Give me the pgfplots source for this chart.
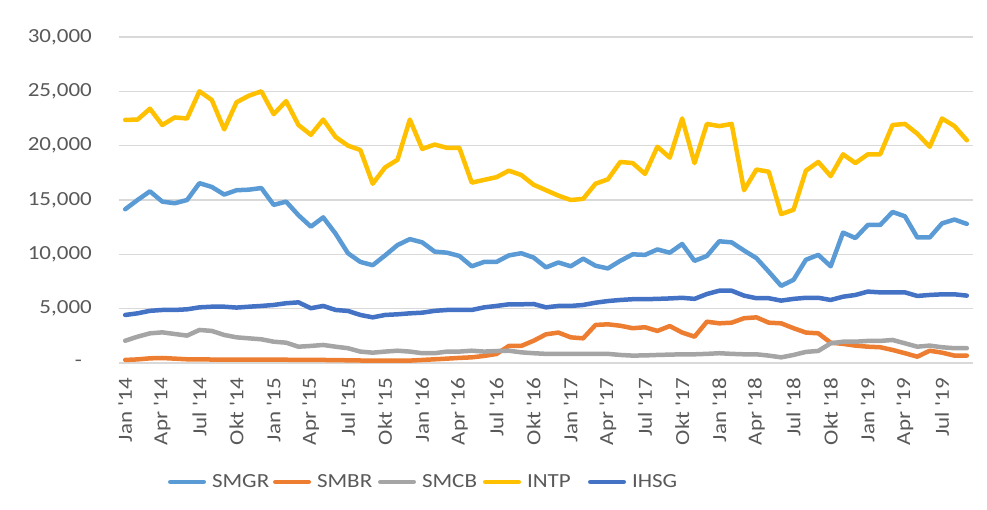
\documentclass[border=0pt]{standalone}
\usepackage{fontspec}
\setmainfont{Carlito}[FakeStretch=1.15, Ligatures=TeXOff]
\usepackage{pgfplots}
\pgfplotsset{compat=1.18}
\definecolor{cSMGR}{HTML}{5B9BD5}
\definecolor{cSMBR}{HTML}{ED7D31}
\definecolor{cSMCB}{HTML}{A5A5A5}
\definecolor{cINTP}{HTML}{FFC000}
\definecolor{cIHSG}{HTML}{4472C4}
\definecolor{txtgray}{HTML}{595959}
\definecolor{gridgray}{HTML}{D9D9D9}
\newcommand\lf{\fontsize{20}{23}\selectfont}

\pgfplotstableread{
i SMGR SMBR SMCB INTP IHSG
0 14150 280 2050 22370 4420
1 15000 330 2420 22400 4570
2 15800 430 2730 23400 4800
3 14850 460 2820 21900 4880
4 14700 400 2670 22600 4880
5 15000 340 2520 22500 4940
6 16550 330 3040 25000 5120
7 16200 320 2950 24200 5180
8 15500 320 2580 21500 5180
9 15900 300 2360 24000 5100
10 15950 300 2270 24600 5180
11 16100 300 2180 25000 5250
12 14550 300 1960 22900 5340
13 14850 300 1870 24100 5500
14 13600 290 1500 21900 5580
15 12550 280 1570 21000 5040
16 13400 280 1660 22400 5250
17 11900 260 1500 20800 4880
18 10100 250 1360 20000 4790
19 9300 230 1050 19600 4420
20 9000 220 950 16500 4200
21 9900 220 1050 18000 4420
22 10850 220 1130 18700 4480
23 11400 220 1050 22400 4570
24 11100 280 900 19700 4630
25 10250 340 900 20100 4800
26 10150 400 1050 19800 4880
27 9850 470 1050 19800 4880
28 8900 520 1130 16600 4880
29 9300 650 1050 16850 5120
30 9300 830 1100 17100 5250
31 9900 1570 1130 17700 5400
32 10100 1570 980 17300 5400
33 9700 2050 900 16400 5430
34 8800 2640 840 15900 5120
35 9250 2800 840 15400 5250
36 8900 2360 840 15000 5250
37 9600 2270 840 15100 5340
38 8950 3500 840 16500 5550
39 8700 3560 840 16900 5700
40 9400 3430 740 18500 5800
41 10000 3200 680 18400 5870
42 9950 3290 700 17400 5870
43 10450 2950 740 19900 5900
44 10150 3400 770 18900 5940
45 10950 2800 800 22500 6000
46 9400 2420 800 18400 5900
47 9850 3800 840 22000 6350
48 11200 3650 900 21800 6650
49 11100 3710 840 22000 6650
50 10350 4120 800 15900 6200
51 9650 4200 800 17800 5960
52 8400 3710 680 17600 5960
53 7100 3650 520 13700 5740
54 7650 3200 740 14100 5900
55 9500 2800 1020 17700 6000
56 9950 2730 1110 18500 6000
57 8900 1870 1810 17200 5800
58 12000 1760 1960 19200 6100
59 11500 1600 1960 18400 6260
60 12700 1500 2030 19200 6570
61 12700 1450 2030 19200 6500
62 13900 1200 2120 21900 6500
63 13500 900 1810 22000 6500
64 11550 580 1500 21100 6170
65 11550 1130 1600 19900 6260
66 12850 950 1450 22500 6320
67 13200 680 1360 21800 6320
68 12800 680 1360 20500 6200
}\data

\begin{document}
\begin{tikzpicture}
\useasboundingbox (0pt,0pt) rectangle (987pt,510pt);
\begin{axis}[
  at={(119pt,147pt)}, anchor=south west,
  scale only axis, width=854pt, height=326pt,
  xmin=-0.5, xmax=68.5, ymin=0, ymax=30000,
  axis line style={draw=none},
  ymajorgrids, grid style={gridgray, line width=1.2pt},
  major tick length=0pt,
  scaled y ticks=false,
  ytick={0,5000,10000,15000,20000,25000,30000},
  yticklabels={{-\kern10pt},{5,000},{10,000},{15,000},{20,000},{25,000},{30,000}},
  xtick={0,3,...,66},
  xticklabels={Jan '14,Apr '14,Jul '14,Okt '14,Jan '15,Apr '15,Jul '15,Okt '15,Jan '16,Apr '16,Jul '16,Okt '16,Jan '17,Apr '17,Jul '17,Okt '17,Jan '18,Apr '18,Jul '18,Okt '18,Jan '19,Apr '19,Jul '19},
  tick label style={font=\lf, text=txtgray, inner sep=0pt},
  x tick label style={rotate=90, anchor=east, xshift=-15pt},
  y tick label style={anchor=east, xshift=-27pt},
  /pgf/number format/assume math mode=true,
  clip=false,
  legend columns=5,
  legend style={draw=none, fill=none, at={(0.0574,-0.365)}, anchor=west, inner sep=0pt, outer sep=0pt,
    font=\lf, text=txtgray,
    /tikz/every odd column/.append style={column sep=6pt},
    /tikz/every even column/.append style={column sep=0pt},
    nodes={inner sep=0pt}},
  legend image code/.code={\draw[#1, line width=4.5pt, line cap=round] (2.25pt,0pt) -- (35.75pt,0pt);},
  every axis plot/.append style={line width=4.5pt, line cap=round, line join=round, mark=none},
]
\addplot[cSMGR] table[x=i, y=SMGR] {\data};
\addlegendentry{\makebox[61pt][l]{SMGR}}
\addplot[cSMBR] table[x=i, y=SMBR] {\data};
\addlegendentry{\makebox[61pt][l]{SMBR}}
\addplot[cSMCB] table[x=i, y=SMCB] {\data};
\addlegendentry{\makebox[61pt][l]{SMCB}}
\addplot[cINTP] table[x=i, y=INTP] {\data};
\addlegendentry{\makebox[61pt][l]{INTP}}
\addplot[cIHSG] table[x=i, y=IHSG] {\data};
\addlegendentry{\makebox[61pt][l]{IHSG}}
\end{axis}
\end{tikzpicture}
\end{document}
